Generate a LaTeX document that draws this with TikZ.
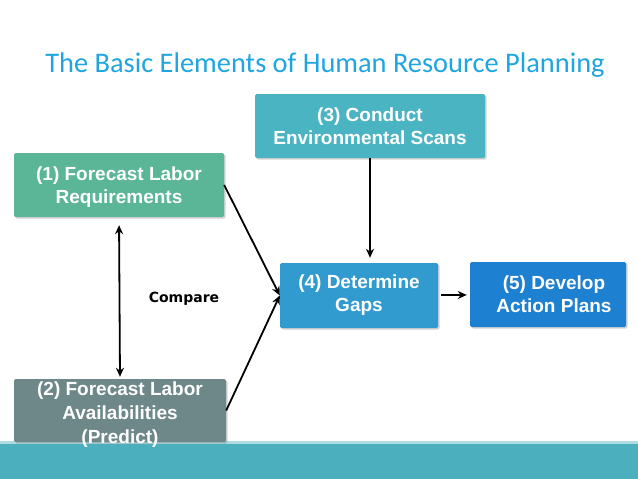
\documentclass[tikz,border=0pt]{standalone}
\usepackage{fontspec}
\setmainfont{Liberation Sans}
\newfontfamily\titlefont{Carlito}
\newfontfamily\cmpfont{DejaVu Sans}
\usepackage{tikz}
\usetikzlibrary{positioning, arrows.meta, shadows}
\definecolor{reqgreen}{HTML}{5AB696}
\definecolor{scanteal}{HTML}{4AB4C3}
\definecolor{availgray}{HTML}{6E888A}
\definecolor{gapblue}{HTML}{319BCF}
\definecolor{planblue}{HTML}{1E80D0}
\definecolor{titleblue}{HTML}{1FA5DF}
\definecolor{bandteal}{HTML}{4BAFBE}
\tikzset{
  box/.style={rounded corners=1.5pt, text=white, align=center,
    font=\fontsize{19}{23}\selectfont\bfseries, inner sep=0pt,
    drop shadow={shadow xshift=1.5pt, shadow yshift=-1.5pt, opacity=0.35}},
  boxtext/.style={text=white, align=center, inner sep=0pt,
    font=\fontsize{19}{24}\selectfont\bfseries},
  bigtip/.tip={Stealth[length=9pt, width=8pt]},
  link/.style={line width=1.8pt, -bigtip},
  >=Stealth,
}

\begin{document}
\begin{tikzpicture}[x=1pt, y=-1pt]
    \useasboundingbox (0,0) rectangle (638,479);
    \fill[white] (0,0) rectangle (638,479);
    % footer band
    \fill[bandteal] (0,443) rectangle (638,479);
    \fill[bandteal!45] (0,441) rectangle (638,444);
    \node[font=\titlefont\fontsize{28.4}{32}\selectfont, text=titleblue] (title) at (325,65) {The Basic Elements of Human Resource Planning};
    \node[box, fill=reqgreen, minimum width=210pt, minimum height=64pt] (req) at (119,185) {\rule{0pt}{17pt}(1) Forecast Labor\\Requirements};
    \node[box, fill=scanteal, minimum width=230pt, minimum height=64pt] (scan) at (370,126) {(3) Conduct\\Environmental Scans};
    \node[box, fill=availgray, minimum width=212pt, minimum height=63pt,
      label={[boxtext, yshift=-4pt]center:(2) Forecast Labor\\Availabilities\\(Predict)}] (avail) at (120,410.5) {};
    \node[box, fill=gapblue, minimum width=158pt, minimum height=65pt] (gaps) at (359,295.5) {(4) Determine\\Gaps};
    \node[box, fill=planblue, minimum width=156pt, minimum height=65pt] (plans) at (548,294.5) {\hspace*{12pt}(5) Develop\\\hspace*{12pt}Action Plans};
    \node[font=\cmpfont\fontsize{14}{16}\selectfont\bfseries] (cmp) at (184,299) {Compare};
    \draw[link] (req.east) -- (gaps.west);
    \draw[link] (avail.east) -- (gaps.west);
    \draw[link, shorten >=5pt] (scan.south) -- (scan.south |- gaps.north);
    \draw[link, shorten <=3pt, shorten >=3pt] (gaps) -- (plans);
    \draw[link, bigtip-bigtip, shorten <=8pt, shorten >=2pt] (req.south) -- (avail.north);
  \end{tikzpicture}
\end{document}
